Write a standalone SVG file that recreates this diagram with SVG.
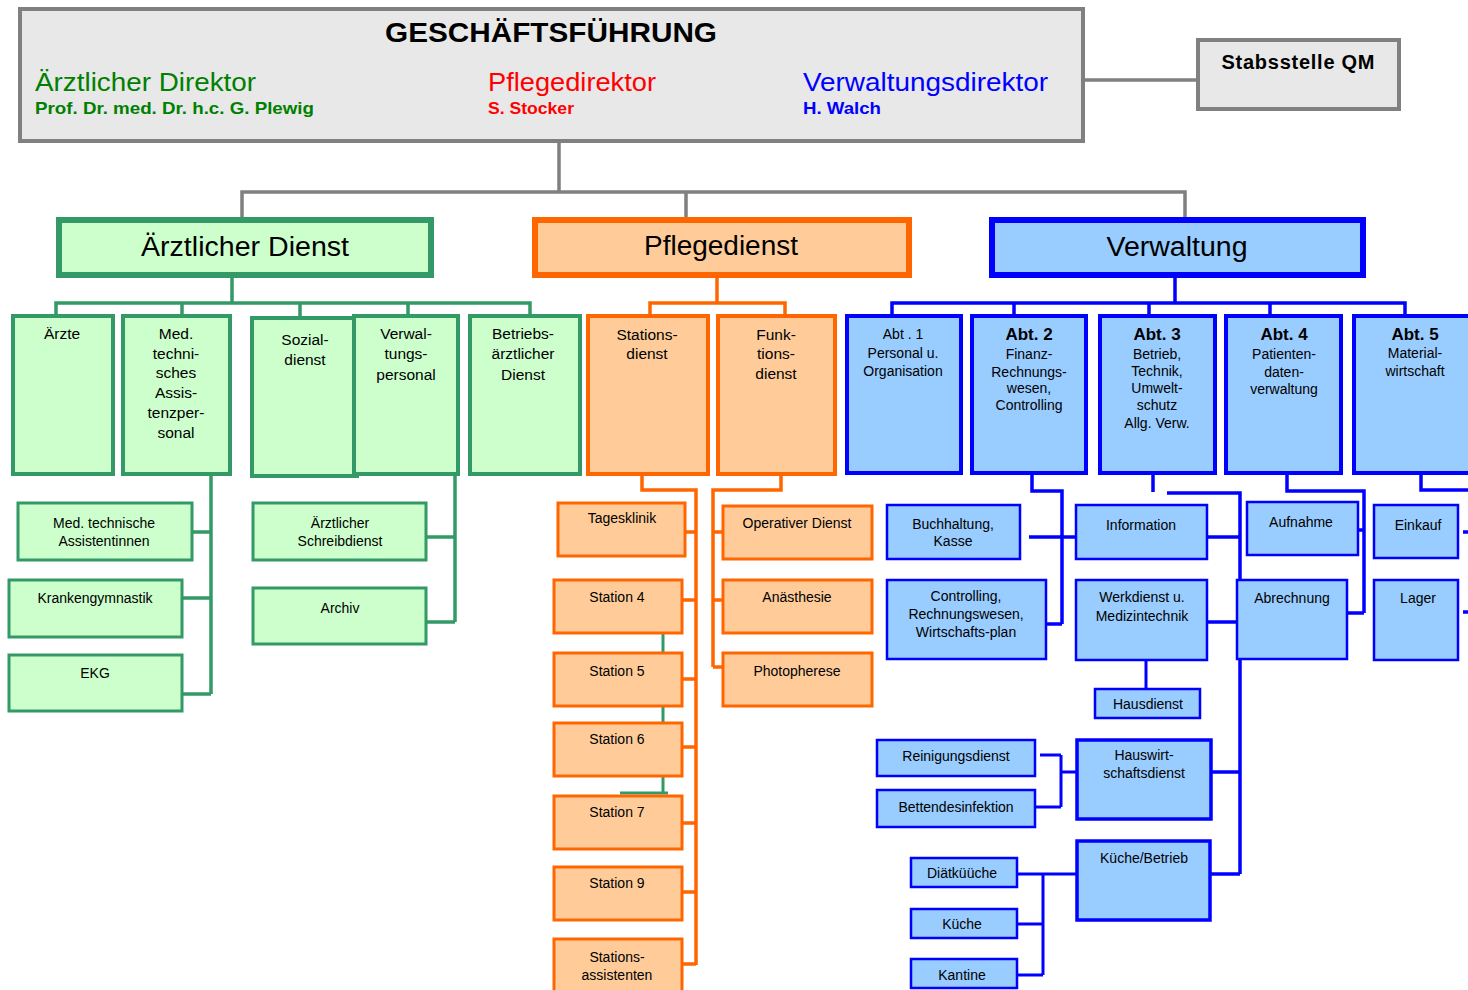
<svg xmlns="http://www.w3.org/2000/svg" width="1468" height="990" viewBox="0 0 1468 990">
<style>
text{font-family:"Liberation Sans",Arial,sans-serif;fill:#000;text-anchor:middle}
.t15{font-size:15.5px}
.t14{font-size:14px}
.bold{font-weight:bold}
.gray rect{fill:#e8e8e8;stroke:#808080;stroke-width:4}
.g rect{fill:#ccffcc;stroke:#339966;stroke-width:4}
.o rect{fill:#ffcc99;stroke:#ff6600;stroke-width:4}
.b rect{fill:#99ccff;stroke:#0000ff;stroke-width:4}
.dept rect{stroke-width:6}
.thin rect{stroke-width:3}
.b.thin rect{stroke-width:2.5}
.cg{fill:none;stroke:#808080;stroke-width:3.5}
.cgr{fill:none;stroke:#339966;stroke-width:3.5}
.co{fill:none;stroke:#ff6600;stroke-width:3.5}
.cb{fill:none;stroke:#0000ff;stroke-width:3.5}
.cb2{fill:none;stroke:#0000ff;stroke-width:3}
.dtext{font-size:27px}
.dir{font-size:26px;text-anchor:start}
.nm{font-size:17px;font-weight:bold;text-anchor:start}
</style>
<rect width="1468" height="990" fill="#ffffff"/>
<g id="connectors">
<path class="cg" d="M1083 80H1198M559 141V192M242 222V192H1185V222M686 192V222"/>
<path class="cgr" d="M232 277V303M56 316V303H530V316M182 303V316M300 303V318M408 303V316M211 475V694M192 532H211M182 598H211M182 694H211M455 475V622M426 537H455M426 622H455"/>
<path class="co" d="M717 277V303M650 316V303H785V316M642 475V490H696V965M685 532H696M682 600H696M682 679H696M682 747H696M682 823H696M682 892H696M682 964H696M781 475V490H713V667M713 532H723M713 600H723M713 667H723"/>
<path class="cgr" style="stroke-width:3" d="M663 634V653M663 707V723M663 776V793M620 793H668"/>
<path class="cb" d="M1175 277V303M892 316V303H1405V316M1014 303V316M1149 303V316M1270 303V316M1032 474V491H1062V624M1029 537H1076M1046 624H1062M1153 474V492M1167 493H1240V874M1207 537H1240M1207 622H1240M1211 772H1240M1210 874H1240M1287 474V491H1364V613M1349 530H1364M1347 613H1364M1421 474V490H1468M1463 532H1468M1463 612H1468"/>
<path class="cb2" d="M1146 660V689M1040 755H1061M1061 755V807M1035 807H1061M1061 772H1077M1012 874H1077M1043 874V975M1012 924H1043M1012 975H1043"/>
</g>
<g id="geschaeftsfuehrung" class="gray">
<rect x="20" y="9" width="1063" height="132"/>
<text x="551" y="42" class="bold" style="font-size:28px" textLength="332" lengthAdjust="spacingAndGlyphs">GESCHÄFTSFÜHRUNG</text>
<text x="35" y="91" class="dir" style="fill:#008000" textLength="221" lengthAdjust="spacingAndGlyphs">Ärztlicher Direktor</text>
<text x="35" y="114" class="nm" style="fill:#008000" textLength="279" lengthAdjust="spacingAndGlyphs">Prof. Dr. med. Dr. h.c. G. Plewig</text>
<text x="488" y="91" class="dir" style="fill:#ff0000" textLength="168" lengthAdjust="spacingAndGlyphs">Pflegedirektor</text>
<text x="488" y="114" class="nm" style="fill:#ff0000" textLength="86" lengthAdjust="spacingAndGlyphs">S. Stocker</text>
<text x="803" y="91" class="dir" style="fill:#0000ff" textLength="245" lengthAdjust="spacingAndGlyphs">Verwaltungsdirektor</text>
<text x="803" y="114" class="nm" style="fill:#0000ff" textLength="78" lengthAdjust="spacingAndGlyphs">H. Walch</text>
</g>
<g id="stabsstelle-qm" class="gray">
<rect x="1198" y="40" width="201" height="69"/>
<text x="1298" y="69" class="bold" style="font-size:20px" textLength="153" lengthAdjust="spacing">Stabsstelle QM</text>
</g>
<g id="aerztlicher-dienst" class="g dept">
<rect x="59" y="220" width="372" height="55"/>
<text x="245" y="256" class="dtext" textLength="208" lengthAdjust="spacingAndGlyphs">Ärztlicher Dienst</text>
</g>
<g id="pflegedienst" class="o dept">
<rect x="535" y="220" width="374" height="55"/>
<text x="721" y="255" class="dtext" textLength="154" lengthAdjust="spacingAndGlyphs">Pflegedienst</text>
</g>
<g id="verwaltung" class="b dept">
<rect x="992" y="220" width="371" height="55"/>
<text x="1177" y="256" class="dtext" textLength="141" lengthAdjust="spacingAndGlyphs">Verwaltung</text>
</g>
<g id="aerzte" class="g">
<rect x="13" y="316" width="100" height="158"/>
<text x="62" y="339" class="t15">Ärzte</text>
</g>
<g id="med-tech-assistenzpersonal" class="g">
<rect x="123" y="316" width="107" height="158"/>
<text x="176" y="339" class="t15">Med.</text>
<text x="176" y="359" class="t15">techni-</text>
<text x="176" y="378" class="t15">sches</text>
<text x="176" y="398" class="t15">Assis-</text>
<text x="176" y="418" class="t15">tenzper-</text>
<text x="176" y="438" class="t15">sonal</text>
</g>
<g id="sozialdienst" class="g">
<rect x="252" y="318" width="105" height="158"/>
<text x="305" y="345" class="t15">Sozial-</text>
<text x="305" y="365" class="t15">dienst</text>
</g>
<g id="verwaltungspersonal" class="g">
<rect x="354" y="316" width="104" height="158"/>
<text x="406" y="339" class="t15">Verwal-</text>
<text x="406" y="359" class="t15">tungs-</text>
<text x="406" y="380" class="t15">personal</text>
</g>
<g id="betriebsaerztlicher-dienst" class="g">
<rect x="470" y="316" width="110" height="158"/>
<text x="523" y="339" class="t15">Betriebs-</text>
<text x="523" y="359" class="t15">ärztlicher</text>
<text x="523" y="380" class="t15">Dienst</text>
</g>
<g id="mta" class="g thin">
<rect x="18" y="503" width="174" height="57"/>
<text x="104" y="528" class="t14">Med. technische</text>
<text x="104" y="546" class="t14">Assistentinnen</text>
</g>
<g id="krankengymnastik" class="g thin">
<rect x="9" y="580" width="173" height="57"/>
<text x="95" y="603" class="t14">Krankengymnastik</text>
</g>
<g id="ekg" class="g thin">
<rect x="9" y="655" width="173" height="56"/>
<text x="95" y="678" class="t14">EKG</text>
</g>
<g id="schreibdienst" class="g thin">
<rect x="253" y="503" width="173" height="57"/>
<text x="340" y="528" class="t14">Ärztlicher</text>
<text x="340" y="546" class="t14">Schreibdienst</text>
</g>
<g id="archiv" class="g thin">
<rect x="253" y="588" width="173" height="56"/>
<text x="340" y="613" class="t14">Archiv</text>
</g>
<g id="stationsdienst" class="o">
<rect x="588" y="316" width="120" height="158"/>
<text x="647" y="340" class="t15">Stations-</text>
<text x="647" y="359" class="t15">dienst</text>
</g>
<g id="funktionsdienst" class="o">
<rect x="718" y="316" width="117" height="158"/>
<text x="776" y="340" class="t15">Funk-</text>
<text x="776" y="359" class="t15">tions-</text>
<text x="776" y="379" class="t15">dienst</text>
</g>
<g id="tagesklinik" class="o thin">
<rect x="558" y="503" width="127" height="53"/>
<text x="622" y="523" class="t14">Tagesklinik</text>
</g>
<g id="station4" class="o thin">
<rect x="554" y="580" width="128" height="53"/>
<text x="617" y="602" class="t14">Station 4</text>
</g>
<g id="station5" class="o thin">
<rect x="554" y="653" width="128" height="53"/>
<text x="617" y="676" class="t14">Station 5</text>
</g>
<g id="station6" class="o thin">
<rect x="554" y="723" width="128" height="53"/>
<text x="617" y="744" class="t14">Station 6</text>
</g>
<g id="station7" class="o thin">
<rect x="554" y="796" width="128" height="53"/>
<text x="617" y="817" class="t14">Station 7</text>
</g>
<g id="station9" class="o thin">
<rect x="554" y="867" width="128" height="53"/>
<text x="617" y="888" class="t14">Station 9</text>
</g>
<g id="stationsassistenten" class="o thin">
<rect x="554" y="939" width="128" height="60"/>
<text x="617" y="962" class="t14">Stations-</text>
<text x="617" y="980" class="t14">assistenten</text>
</g>
<g id="operativer-dienst" class="o thin">
<rect x="723" y="506" width="149" height="53"/>
<text x="797" y="528" class="t14">Operativer Dienst</text>
</g>
<g id="anaesthesie" class="o thin">
<rect x="723" y="580" width="149" height="53"/>
<text x="797" y="602" class="t14">Anästhesie</text>
</g>
<g id="photopherese" class="o thin">
<rect x="723" y="653" width="149" height="53"/>
<text x="797" y="676" class="t14">Photopherese</text>
</g>
<g id="abt1" class="b">
<rect x="847" y="316" width="114" height="157"/>
<text x="903" y="339" class="t14">Abt . 1</text>
<text x="903" y="358" class="t14">Personal u.</text>
<text x="903" y="376" class="t14">Organisation</text>
</g>
<g id="abt2" class="b">
<rect x="972" y="316" width="114" height="157"/>
<text x="1029" y="340" class="bold" style="font-size:17px">Abt. 2</text>
<text x="1029" y="359" class="t14">Finanz-</text>
<text x="1029" y="377" class="t14">Rechnungs-</text>
<text x="1029" y="393" class="t14">wesen,</text>
<text x="1029" y="410" class="t14">Controlling</text>
</g>
<g id="abt3" class="b">
<rect x="1100" y="316" width="115" height="157"/>
<text x="1157" y="340" class="bold" style="font-size:17px">Abt. 3</text>
<text x="1157" y="359" class="t14">Betrieb,</text>
<text x="1157" y="376" class="t14">Technik,</text>
<text x="1157" y="393" class="t14">Umwelt-</text>
<text x="1157" y="410" class="t14">schutz</text>
<text x="1157" y="428" class="t14">Allg. Verw.</text>
</g>
<g id="abt4" class="b">
<rect x="1226" y="316" width="115" height="157"/>
<text x="1284" y="340" class="bold" style="font-size:17px">Abt. 4</text>
<text x="1284" y="359" class="t14">Patienten-</text>
<text x="1284" y="377" class="t14">daten-</text>
<text x="1284" y="394" class="t14">verwaltung</text>
</g>
<g id="abt5" class="b">
<rect x="1354" y="316" width="125" height="157"/>
<text x="1415" y="340" class="bold" style="font-size:17px">Abt. 5</text>
<text x="1415" y="358" class="t14">Material-</text>
<text x="1415" y="376" class="t14">wirtschaft</text>
</g>
<g id="buchhaltung" class="b thin">
<rect x="887" y="505" width="133" height="54"/>
<text x="953" y="529" class="t14">Buchhaltung,</text>
<text x="953" y="546" class="t14">Kasse</text>
</g>
<g id="controlling" class="b thin">
<rect x="887" y="580" width="159" height="79"/>
<text x="966" y="601" class="t14">Controlling,</text>
<text x="966" y="619" class="t14">Rechnungswesen,</text>
<text x="966" y="637" class="t14">Wirtschafts-plan</text>
</g>
<g id="information" class="b thin">
<rect x="1076" y="505" width="131" height="54"/>
<text x="1141" y="530" class="t14">Information</text>
</g>
<g id="werkdienst" class="b thin">
<rect x="1076" y="580" width="131" height="80"/>
<text x="1142" y="602" class="t14">Werkdienst u.</text>
<text x="1142" y="621" class="t14">Medizintechnik</text>
</g>
<g id="hausdienst" class="b thin">
<rect x="1095" y="689" width="105" height="29"/>
<text x="1148" y="709" class="t14">Hausdienst</text>
</g>
<g id="aufnahme" class="b thin">
<rect x="1247" y="502" width="111" height="53"/>
<text x="1301" y="527" class="t14">Aufnahme</text>
</g>
<g id="abrechnung" class="b thin">
<rect x="1237" y="580" width="110" height="79"/>
<text x="1292" y="603" class="t14">Abrechnung</text>
</g>
<g id="einkauf" class="b thin">
<rect x="1374" y="505" width="84" height="53"/>
<text x="1418" y="530" class="t14">Einkauf</text>
</g>
<g id="lager" class="b thin">
<rect x="1374" y="580" width="84" height="80"/>
<text x="1418" y="603" class="t14">Lager</text>
</g>
<g id="reinigungsdienst" class="b thin">
<rect x="877" y="740" width="158" height="36"/>
<text x="956" y="761" class="t14">Reinigungsdienst</text>
</g>
<g id="bettendesinfektion" class="b thin">
<rect x="877" y="790" width="158" height="37"/>
<text x="956" y="812" class="t14">Bettendesinfektion</text>
</g>
<g id="hauswirtschaftsdienst" class="b">
<rect x="1077" y="740" width="134" height="79" style="stroke-width:3.5"/>
<text x="1144" y="760" class="t14">Hauswirt-</text>
<text x="1144" y="778" class="t14">schaftsdienst</text>
</g>
<g id="kueche-betrieb" class="b">
<rect x="1077" y="841" width="133" height="79" style="stroke-width:3.5"/>
<text x="1144" y="863" class="t14">Küche/Betrieb</text>
</g>
<g id="diaetkueche" class="b thin">
<rect x="911" y="858" width="106" height="29"/>
<text x="962" y="878" class="t14">Diätküüche</text>
</g>
<g id="kueche" class="b thin">
<rect x="911" y="909" width="106" height="29"/>
<text x="962" y="929" class="t14">Küche</text>
</g>
<g id="kantine" class="b thin">
<rect x="911" y="959" width="106" height="29"/>
<text x="962" y="980" class="t14">Kantine</text>
</g>
</svg>
